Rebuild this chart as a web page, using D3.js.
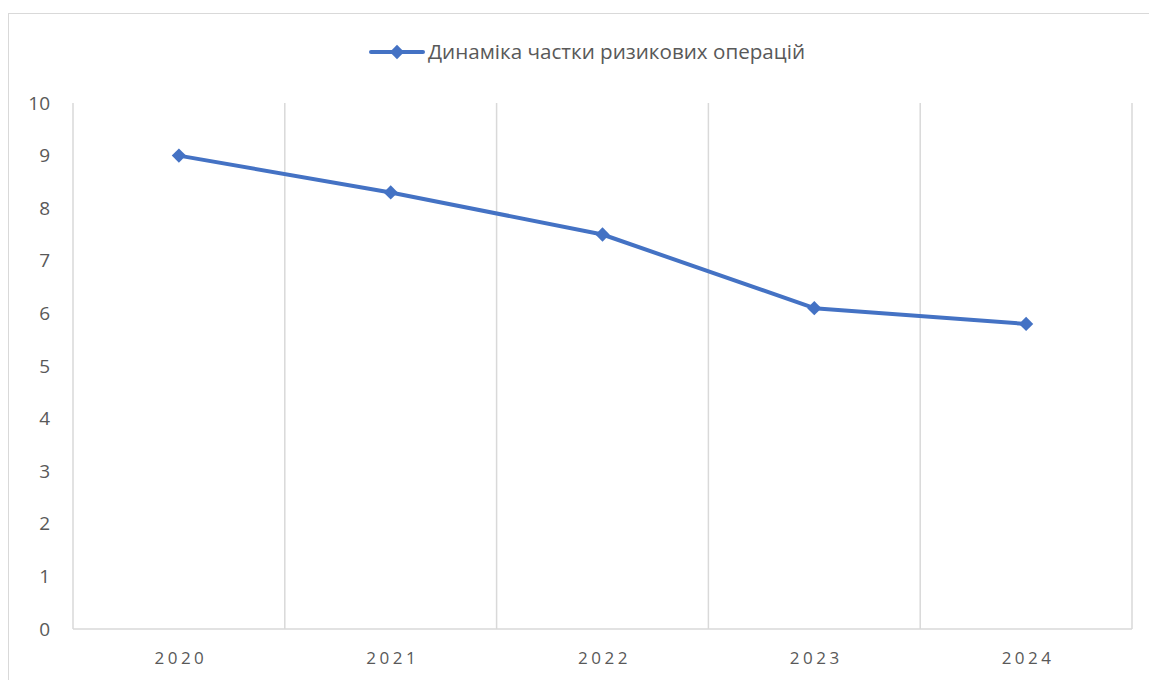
<!DOCTYPE html>
<html><head><meta charset="utf-8">
<script src="https://cdn.jsdelivr.net/npm/d3@7"></script>
<style>body{margin:0;background:#fff;} text{font-family:"Open Sans","Noto Sans",sans-serif;}</style>
</head><body>
<svg id="c" width="1149" height="680"></svg>
<script>
const categories = ["2020","2021","2022","2023","2024"];
const values = [9.0, 8.3, 7.5, 6.1, 5.8];
const yTicks = [0,1,2,3,4,5,6,7,8,9,10];
const seriesName = "Динаміка частки ризикових операцій";

(function(){
const svg = d3.select("#c");
const color = "#4472C4";
const pL = 73, pR = 1132, pT = 103, pB = 629;

svg.append("rect").attr("x",8.5).attr("y",13.5).attr("width",1160).attr("height",700)
  .attr("fill","#fff").attr("stroke","#d9d9d9").attr("stroke-width",1);

const x = d3.scaleBand().domain(categories).range([pL,pR]).padding(0);
const y = d3.scaleLinear().domain([0,10]).range([pB,pT]);

const bounds = categories.map(c=>x(c)).concat([pR]);
svg.append("g").selectAll("line").data(bounds).join("line")
  .attr("x1",d=>d).attr("x2",d=>d).attr("y1",pT).attr("y2",pB)
  .attr("stroke","#d9d9d9").attr("stroke-width",1.5);

svg.append("line").attr("x1",pL).attr("x2",pR).attr("y1",pB).attr("y2",pB)
  .attr("stroke","#d9d9d9").attr("stroke-width",1.5);

svg.append("g").selectAll("text").data(yTicks).join("text")
  .attr("x",50).attr("y",d=>y(d)).attr("dy","0.35em").attr("text-anchor","end")
  .attr("font-size",19).attr("fill","#595959").text(d=>d);

svg.append("g").selectAll("text").data(categories).join("text")
  .attr("x",d=>x(d)+x.bandwidth()/2+2).attr("y",658).attr("dy","0.35em").attr("text-anchor","middle")
  .attr("font-size",17).attr("letter-spacing","3.5px").attr("fill","#595959").text(d=>d);

const cx = (d,i)=>x(categories[i])+x.bandwidth()/2;
const line = d3.line().x((d,i)=>cx(d,i)).y(d=>y(d));
svg.append("path").datum(values).attr("d",line).attr("fill","none")
  .attr("stroke",color).attr("stroke-width",4).attr("stroke-linejoin","round").attr("stroke-linecap","round");

const diamond = d3.symbol().type(d3.symbolDiamond2).size(130);
svg.append("g").selectAll("path").data(values).join("path")
  .attr("transform",(d,i)=>`translate(${cx(d,i)},${y(d)})`)
  .attr("d",diamond).attr("fill",color);

const lg = svg.append("g");
lg.append("line").attr("x1",371).attr("x2",423).attr("y1",52).attr("y2",52)
  .attr("stroke",color).attr("stroke-width",4).attr("stroke-linecap","round");
lg.append("path").attr("transform","translate(397,52)").attr("d",diamond).attr("fill",color);
lg.append("text").attr("x",428).attr("y",52).attr("dy","0.35em").attr("font-size",20)
  .attr("fill","#595959").attr("textLength",377).attr("lengthAdjust","spacingAndGlyphs").text(seriesName);
})();
</script>
</body></html>
